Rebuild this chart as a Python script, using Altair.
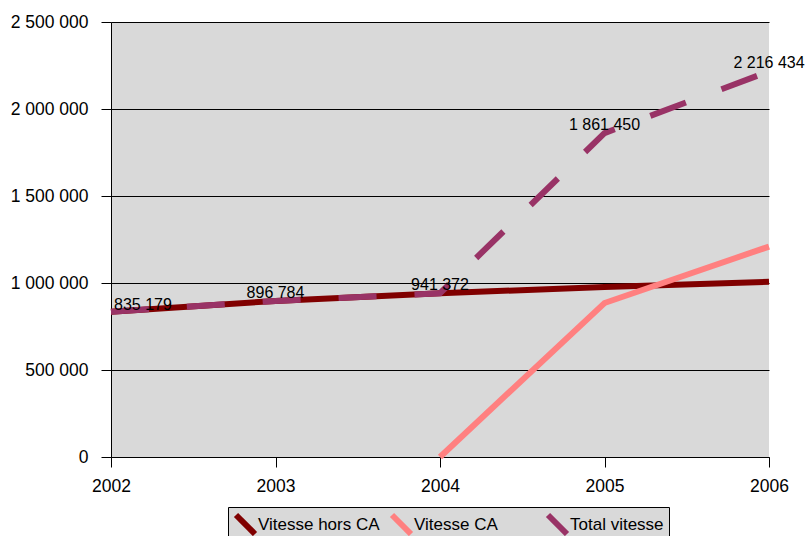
import altair as alt
import pandas as pd

years = [2002, 2003, 2004, 2005, 2006]
hors_ca = [835179, 896784, 941372, 976450, 1007000]
vitesse_ca = [None, None, 0, 885000, 1209434]
total = [835179, 896784, 941372, 1861450, 2216434]
series_names = ["Vitesse hors CA", "Vitesse CA", "Total vitesse"]
colors = ["#800000", "#ff8080", "#993366"]
y_ticks = [0, 500000, 1000000, 1500000, 2000000, 2500000]

rows = []
for name, vals in zip(series_names, [hors_ca, vitesse_ca, total]):
    for yr, v in zip(years, vals):
        if v is not None:
            rows.append({"year": yr, "value": v, "series": name})
df = pd.DataFrame(rows)

FONT = "Liberation Sans"
fmt_expr = "replace(format(datum.value, ','), /,/g, ' ')"

x = alt.X("year:Q", scale=alt.Scale(domain=[2002, 2006], nice=False, zero=False),
          axis=alt.Axis(values=years, format="d", title=None, grid=False,
                        tickSize=10, tickColor="black", domainColor="black",
                        labelPadding=10, labelFontSize=17.5, labelFont=FONT,
                        labelColor="black", labelFlush=False))
y = alt.Y("value:Q", scale=alt.Scale(domain=[0, 2500000], nice=False),
          axis=alt.Axis(values=y_ticks, labelExpr=fmt_expr, title=None,
                        grid=True, gridColor="black", gridWidth=1,
                        tickSize=10, tickColor="black", domainColor="black",
                        labelPadding=13, labelFontSize=17.5, labelFont=FONT,
                        labelColor="black"))
color = alt.Color("series:N", scale=alt.Scale(domain=series_names, range=colors),
                  legend=alt.Legend(title=None, orient="none", legendX=117, legendY=485,
                                    direction="horizontal", columns=3, gridAlign="all",
                                    columnPadding=0, labelFontSize=17, labelFont=FONT,
                                    labelColor="black", symbolType="M-1,-1L1,1",
                                    symbolSize=361, symbolStrokeWidth=6,
                                    labelOffset=0, fillColor="#d9d9d9",
                                    strokeColor="black", padding=5))

base = alt.Chart(df)
l1 = base.transform_filter(alt.datum.series == "Vitesse hors CA").mark_line(strokeWidth=6).encode(x=x, y=y, color=color)
l2 = base.transform_filter(alt.datum.series == "Vitesse CA").mark_line(strokeWidth=6).encode(x=x, y=y, color=color)
l3 = base.transform_filter(alt.datum.series == "Total vitesse").mark_line(strokeWidth=6, strokeDash=[38, 38]).encode(x=x, y=y, color=color)

tbase = base.transform_filter(alt.datum.series == "Total vitesse").transform_calculate(
    label=fmt_expr)
t1 = tbase.transform_filter(alt.datum.year == 2002).mark_text(
    align="left", baseline="alphabetic", dx=3, dy=-2, fontSize=16, font=FONT, color="black"
).encode(x="year:Q", y="value:Q", text="label:N")
t2 = tbase.transform_filter(alt.datum.year != 2002).mark_text(
    align="center", baseline="alphabetic", dy=-3, fontSize=16, font=FONT, color="black"
).encode(x="year:Q", y="value:Q", text="label:N")

chart = alt.layer(l1, l2, l3, t1, t2).properties(
    width=658, height=435,
    autosize=alt.AutoSizeParams(type="none"),
    padding={"left": 111, "top": 22, "right": 38, "bottom": 79},
    background="white",
).configure_view(fill="#d9d9d9", stroke=None)

chart.save("out.html", embed_options={"renderer": "svg", "actions": False})
